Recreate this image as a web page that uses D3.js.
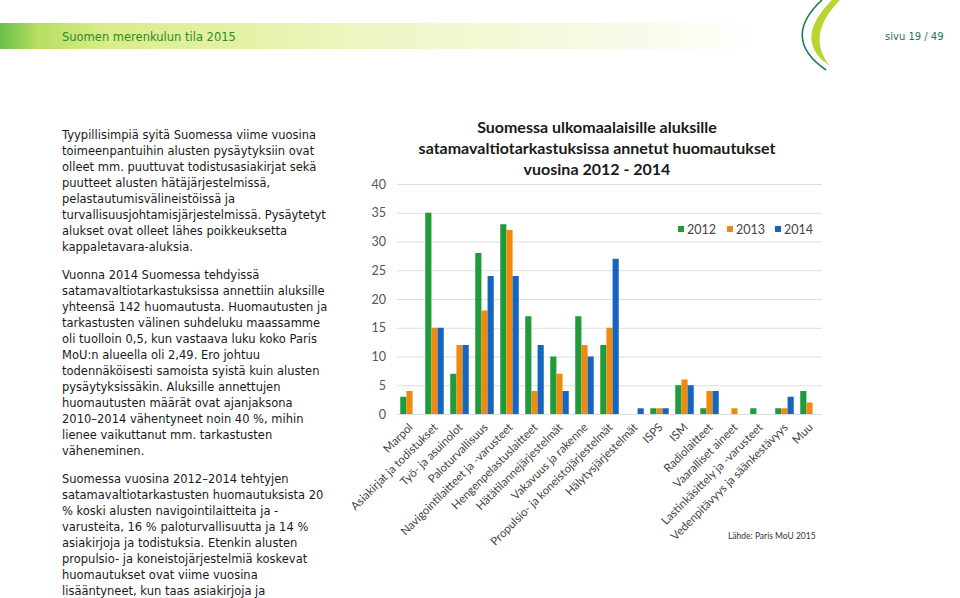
<!DOCTYPE html>
<html><head><meta charset="utf-8">
<script src="https://cdn.jsdelivr.net/npm/d3@7"></script>
<style>body{margin:0;background:#fff}svg{display:block}</style>
</head><body>
<svg id="c" width="960" height="598"></svg>
<script>
const categories = ["Marpol","Asiakirjat ja todistukset","Työ- ja asuinolot","Paloturvallisuus","Navigointilaitteet ja -varusteet","Hengenpelastuslaitteet","Hätätilannejärjestelmät","Vakavuus ja rakenne","Propulsio- ja koneistojärjestelmät","Hälytysjärjestelmät","ISPS","ISM","Radiolaitteet","Vaaralliset aineet","Lastinkäsittely ja -varusteet","Vedenpitävyys ja säänkestävyys","Muu"];
const years = ["2012","2013","2014"];
const values2012 = [3,35,7,28,33,17,10,17,12,0,1,5,1,0,1,1,4];
const values2013 = [4,15,12,18,32,4,7,12,15,0,1,6,4,1,0,1,2];
const values2014 = [0,15,12,24,24,12,4,10,27,1,1,5,4,0,0,3,0];
const yTicks = [0,5,10,15,20,25,30,35,40];
const titleLines = ["Suomessa ulkomaalaisille aluksille","satamavaltiotarkastuksissa annetut huomautukset","vuosina 2012 - 2014"];
const sourceText = "Lähde: Paris MoU 2015";
const headerTitle = "Suomen merenkulun tila 2015";
const pageText = "sivu 19 / 49";
const paragraphs = [
 ["Tyypillisimpiä syitä Suomessa viime vuosina","toimeenpantuihin alusten pysäytyksiin ovat","olleet mm. puuttuvat todistusasiakirjat sekä","puutteet alusten hätäjärjestelmissä,","pelastautumisvälineistöissä ja","turvallisuusjohtamisjärjestelmissä. Pysäytetyt","alukset ovat olleet lähes poikkeuksetta","kappaletavara-aluksia."],
 ["Vuonna 2014 Suomessa tehdyissä","satamavaltiotarkastuksissa annettiin aluksille","yhteensä 142 huomautusta. Huomautusten ja","tarkastusten välinen suhdeluku maassamme","oli tuolloin 0,5, kun vastaava luku koko Paris","MoU:n alueella oli 2,49. Ero johtuu","todennäköisesti samoista syistä kuin alusten","pysäytyksissäkin. Aluksille annettujen","huomautusten määrät ovat ajanjaksona","2010–2014 vähentyneet noin 40 %, mihin","lienee vaikuttanut mm. tarkastusten","väheneminen."],
 ["Suomessa vuosina 2012–2014 tehtyjen","satamavaltiotarkastusten huomautuksista 20","% koski alusten navigointilaitteita ja -","varusteita, 16 % paloturvallisuutta ja 14 %","asiakirjoja ja todistuksia. Etenkin alusten","propulsio- ja koneistojärjestelmiä koskevat","huomautukset ovat viime vuosina","lisääntyneet, kun taas asiakirjoja ja"]
];
const colors = ["#1f9b3b","#ef8a0c","#1565c0"];
const seriesValues = [values2012, values2013, values2014];

const svg = d3.select("#c");
const defs = svg.append("defs");

// header banner
const g1 = defs.append("linearGradient").attr("id","ban").attr("x1","0").attr("x2","1");
g1.append("stop").attr("offset","0").attr("stop-color","#6cc04a");
g1.append("stop").attr("offset","0.05").attr("stop-color","#b8de62");
g1.append("stop").attr("offset","0.14").attr("stop-color","#d9ed88");
g1.append("stop").attr("offset","0.5").attr("stop-color","#eef7c6");
g1.append("stop").attr("offset","0.85").attr("stop-color","#f8fbea");
g1.append("stop").attr("offset","1").attr("stop-color","#ffffff");
svg.append("rect").attr("x",0).attr("y",23).attr("width",760).attr("height",26).attr("fill","url(#ban)");
svg.append("text").attr("x",62).attr("y",41).attr("font-family","DejaVu Sans, Verdana, sans-serif")
  .attr("font-size",11.5).attr("fill","#2f8a2a").text(headerTitle);
svg.append("text").attr("x",885).attr("y",40).attr("font-family","DejaVu Sans, Verdana, sans-serif")
  .attr("font-size",10).attr("fill","#2d6b5b").text(pageText);
// decorative curves
svg.append("path").attr("d","M832,0 C810,22 804,42 822,60 L830,66 C814,46 816,24 840,0 Z").attr("fill","#b9d532");
svg.append("path").attr("d","M822,0 C796,24 794,48 826,70").attr("fill","none").attr("stroke","#1d7a55").attr("stroke-width",1.6);

// left text
const tg = svg.append("g").attr("font-family","DejaVu Sans, Verdana, sans-serif").attr("font-size",11.5).attr("fill","#1a1a1a");
const paraStarts = [139, 279, 483];
paragraphs.forEach((p,i)=>{
  p.forEach((line,j)=>{
    tg.append("text").attr("x",62).attr("y",paraStarts[i]+j*16).text(line);
  });
});

// chart
const x0 = 397, x1 = 822, yTop = 184, yBot = 414;
const x = d3.scaleBand().domain(categories).range([x0,x1]).paddingInner(0.26).paddingOuter(0.13);
const xs = d3.scaleBand().domain(years).range([0,x.bandwidth()]);
const y = d3.scaleLinear().domain([0,40]).range([yBot,yTop]);

const yAxis = d3.axisLeft(y).tickValues(yTicks).tickSize(-(x1-x0)).tickPadding(11);
const ya = svg.append("g").attr("transform",`translate(${x0},0)`).call(yAxis);
ya.select(".domain").remove();
ya.selectAll(".tick line").attr("stroke","#dedede").attr("stroke-width",1);
ya.selectAll(".tick text").attr("fill","#555").attr("font-family","Lato, 'Open Sans', sans-serif").attr("font-size",12.5);

const groups = svg.append("g").selectAll("g").data(categories).join("g")
  .attr("transform",d=>`translate(${x(d)},0)`);
groups.selectAll("rect").data((d,i)=>years.map((yr,k)=>({yr,k,v:seriesValues[k][i]})))
  .join("rect")
  .attr("x",d=>xs(d.yr)).attr("width",xs.bandwidth())
  .attr("y",d=>y(d.v)).attr("height",d=>yBot-y(d.v))
  .attr("fill",d=>colors[d.k]);

// x labels
const xl = svg.append("g").attr("font-family","Lato, 'Open Sans', sans-serif").attr("font-size",11.5).attr("fill","#444");
categories.forEach(c=>{
  const cx = x(c)+x.bandwidth()/2+4;
  xl.append("text").attr("transform",`translate(${cx},${428}) rotate(-45)`).attr("text-anchor","end").text(c);
});

// title
const tt = svg.append("g").attr("font-family","Lato, 'Open Sans', sans-serif").attr("font-weight","bold").attr("font-size",16).attr("fill","#1a1a1a").attr("text-anchor","middle");
titleLines.forEach((t,i)=>tt.append("text").attr("x",597).attr("y",133+i*21).text(t));

// legend
const lg = svg.append("g").attr("font-family","Lato, 'Open Sans', sans-serif").attr("font-size",12.5).attr("fill","#444");
const legX = [678,727,775];
years.forEach((yr,k)=>{
  lg.append("rect").attr("x",legX[k]).attr("y",226).attr("width",6).attr("height",6).attr("fill",colors[k]);
  lg.append("text").attr("x",legX[k]+9).attr("y",234).text(yr);
});

// source
svg.append("text").attr("x",728).attr("y",539).attr("font-family","Lato, 'Open Sans', sans-serif").attr("font-size",8.5).attr("fill","#333").text(sourceText);
</script>
</body></html>
